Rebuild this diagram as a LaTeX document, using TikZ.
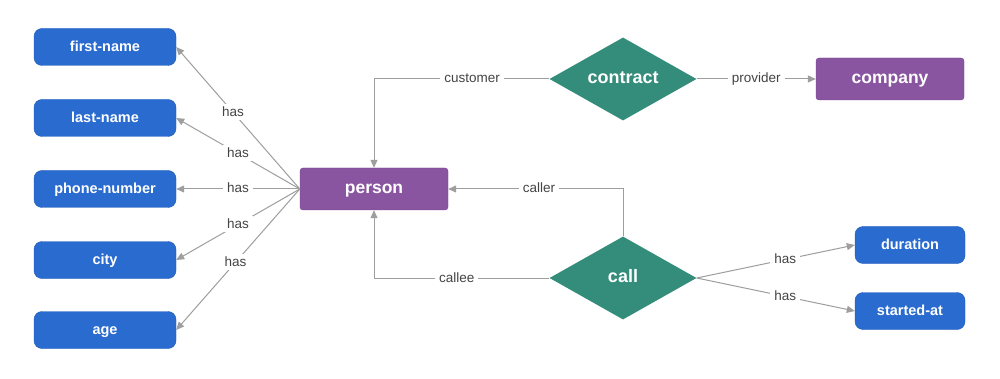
\documentclass[tikz,border=0pt]{standalone}
\usepackage{fontspec}
\setmainfont{Liberation Sans}
\usetikzlibrary{shapes.geometric,arrows.meta}
\definecolor{attrblue}{HTML}{2A6BCF}
\definecolor{attrborder}{HTML}{1F5BB8}
\definecolor{entpurple}{HTML}{8A55A0}
\definecolor{entborder}{HTML}{7A4590}
\definecolor{relteal}{HTML}{338D7A}
\definecolor{linegray}{HTML}{9E9E9E}
\definecolor{labelgray}{HTML}{444444}
\begin{document}
\begin{tikzpicture}[x=1pt,y=-1pt,
  attr/.style={draw=attrborder,fill=attrblue,rounded corners=8pt,minimum width=142pt,minimum height=37pt,inner sep=0pt,text=white,text height=0.85em,text depth=0pt,font=\fontsize{14.5}{16}\selectfont\bfseries},
  smallattr/.style={attr,minimum width=110pt},
  entity/.style={draw=entborder,fill=entpurple,rounded corners=3pt,minimum width=148pt,minimum height=42pt,inner sep=0pt,text=white,text height=0.85em,text depth=0pt,font=\fontsize{17.5}{20}\selectfont\bfseries},
  rel/.style={diamond,fill=relteal,minimum width=147pt,minimum height=83pt,inner sep=0pt,text=white,text height=0.85em,text depth=0pt,font=\fontsize{18}{20}\selectfont\bfseries},
  conn/.style={draw=linegray,line width=1pt},
  arr/.style={conn,-{Triangle[width=7pt,length=8pt]}},
  lbl/.style={fill=white,text=labelgray,inner sep=4pt,text height=0.8em,text depth=0pt,font=\fontsize{13.5}{15}\selectfont}]
\useasboundingbox (0,0) rectangle (1000,379);
\fill[white] (0,0) rectangle (1000,379);
% attribute nodes
\node[attr] (first) at (105,47) {first-name};
\node[attr] (last) at (105,118) {last-name};
\node[attr] (phone) at (105,189) {phone-number};
\node[attr] (city) at (105,260) {city};
\node[attr] (age) at (105,330) {age};
\node[smallattr] (duration) at (910,245) {duration};
\node[smallattr] (started) at (910,311) {started-at};
% entities
\node[entity] (person) at (374,189) {person};
\node[entity] (company) at (890,79) {company};
% relations
\node[rel] (contract) at (623,79) {contract};
\node[rel] (call) at (623,278) {call};
% connectors
\draw[arr] (person.west) -- node[lbl,pos=0.54]{has} (first.east);
\draw[arr] (person.west) -- node[lbl,pos=0.5]{has} (last.east);
\draw[arr] (person.west) -- node[lbl,pos=0.5]{has} (phone.east);
\draw[arr] (person.west) -- node[lbl,pos=0.5]{has} (city.east);
\draw[arr] (person.west) -- node[lbl,pos=0.52]{has} (age.east);
\draw[arr] (contract.west) -| node[lbl,pos=0.22]{customer} (person.north);
\draw[arr] (contract.east) -- node[lbl,pos=0.5]{provider} (company.west);
\draw[arr] (call.north) |- node[lbl,pos=0.74]{caller} (person.east);
\draw[arr] (call.west) -| node[lbl,pos=0.264]{callee} (person.south);
\draw[arr] (call.east) -- node[lbl,pos=0.56]{has} (duration.west);
\draw[arr] (call.east) -- node[lbl,pos=0.56]{has} (started.west);
\end{tikzpicture}
\end{document}
